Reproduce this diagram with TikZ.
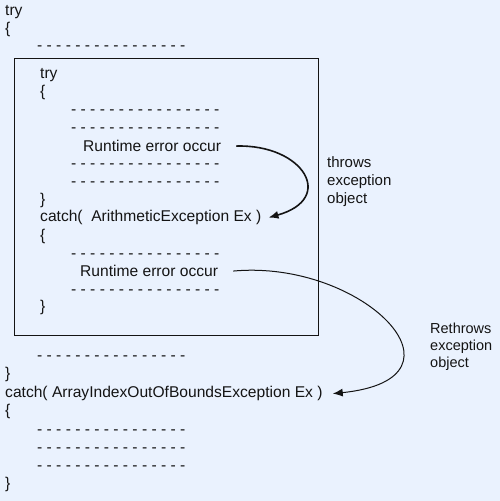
\documentclass[tikz,border=0pt]{standalone}
\usepackage{fontspec}
\setmainfont{Liberation Sans}
\usetikzlibrary{arrows.meta}

\definecolor{paper}{RGB}{234,242,254}
\definecolor{ink}{RGB}{20,20,20}
\newcommand{\dashrow}{- - - - - - - - - - - - - - - -}

\begin{document}
\begin{tikzpicture}[x=1pt, y=-1pt, >={Latex[length=10pt, width=8pt]},
	code/.style={anchor=mid west, inner sep=0pt, text=ink, font=\fontsize{15.6}{18}\selectfont},
	note/.style={anchor=west, align=left, inner sep=0pt, text=ink}]
	\fill[paper] (0,0) rectangle (500,501);
	\useasboundingbox (0,0) rectangle (500,501);

	% outer try
	\node[code] (t0) at (5,13) {try};
	\node[code] (b0) at (5,31) {\{};
	\node[code] (d0) at (37,48) {\dashrow};

	% inner try / catch in the frame
	\draw[ink, line width=1pt] (14,58) rectangle (318,335);
	\node[code] (t1) at (40,76) {try};
	\node[code] (b1) at (40,94) {\{};
	\node[code] (d1) at (71,112) {\dashrow};
	\node[code] (d2) at (71,130) {\dashrow};
	\node[code] (r1) at (83,149) {Runtime error occur};
	\node[code] (d3) at (71,166) {\dashrow};
	\node[code] (d4) at (71,184) {\dashrow};
	\node[code] (e1) at (40,202) {\}};
	\node[code] (c1) at (40,219) {catch(\ \ ArithmeticException Ex )};
	\node[code] (b2) at (40,238) {\{};
	\node[code] (d5) at (71,256) {\dashrow};
	\node[code] (r2) at (80,274) {Runtime error occur};
	\node[code] (d6) at (71,292) {\dashrow};
	\node[code] (e2) at (40,309) {\}};

	% outer catch
	\node[code] (d7) at (37,358) {\dashrow};
	\node[code] (e0) at (5,376) {\}};
	\node[code] (c2) at (5,395) {catch( ArrayIndexOutOfBoundsException Ex )};
	\node[code] (b3) at (5,413) {\{};
	\node[code] (d8) at (37,432) {\dashrow};
	\node[code] (d9) at (37,450) {\dashrow};
	\node[code] (d10) at (37,468) {\dashrow};
	\node[code] (e3) at (5,486) {\}};

	\node[note, font=\fontsize{15}{18}\selectfont] (throw) at (327,182) {throws\\exception\\object};
	\node[note, font=\fontsize{14.5}{17}\selectfont] (rethrow) at (430,347) {Rethrows\\exception\\object};

	\draw [->, ink, line width=1.6pt]
		([xshift=15]r1.east) .. controls +(67,-2) and +(68,-19) .. ([xshift=7]c1.east);
	\draw [->, ink, line width=1pt]
		([xshift=15]r2.east) .. controls +(130,-12) and +(147,-15) .. ([xshift=10]c2.east);
\end{tikzpicture}
\end{document}
